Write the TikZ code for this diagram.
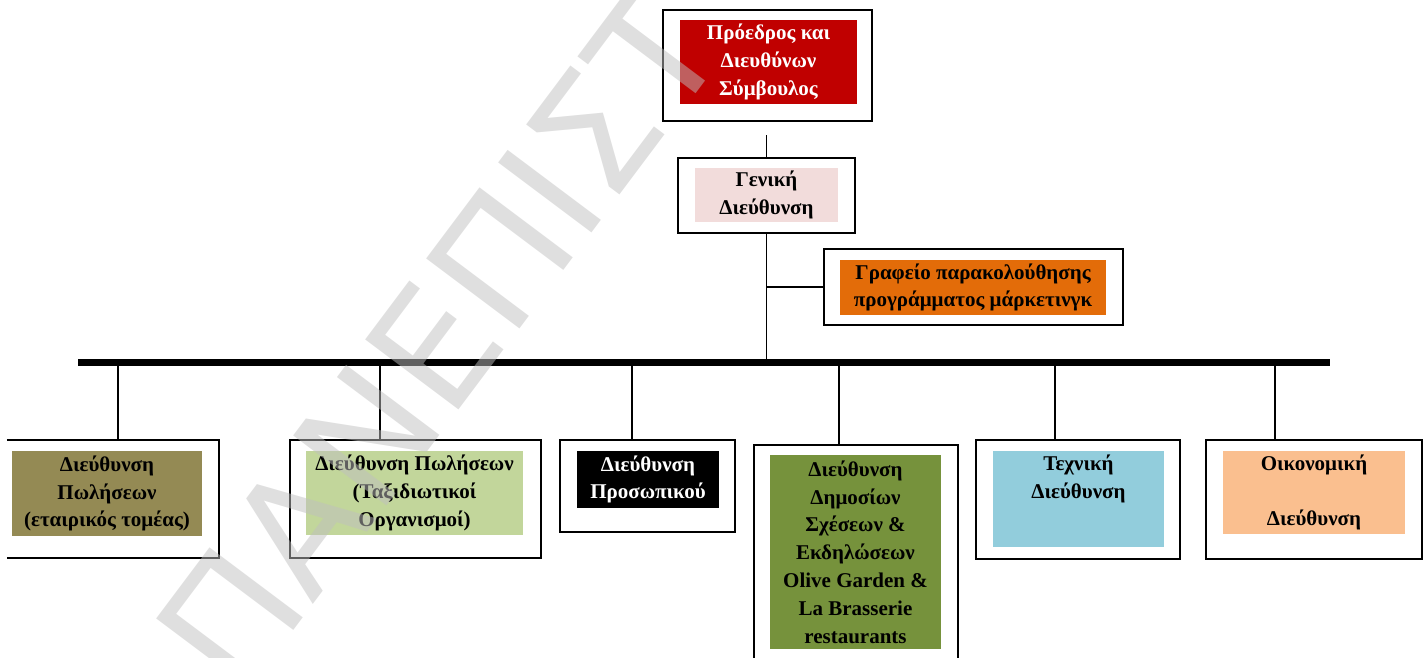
\documentclass[tikz,border=0pt]{standalone}
\usepackage{fontspec}
\setmainfont{Liberation Serif}
\newfontfamily\wmfont{DejaVu Sans}

\definecolor{ceored}{HTML}{C00000}
\definecolor{genpink}{HTML}{F2DCDB}
\definecolor{offorange}{HTML}{E36C09}
\definecolor{khaki}{HTML}{948A54}
\definecolor{palegreen}{HTML}{C2D69B}
\definecolor{olivegreen}{HTML}{76923C}
\definecolor{skyblue}{HTML}{92CDDC}
\definecolor{peach}{HTML}{FABF8F}

\begin{document}
\begin{tikzpicture}[x=1pt,y=-1pt,
  frame/.style={draw=black, line width=2.2pt, inner sep=0pt},
  frameline/.style={draw=black, line width=2.2pt},
  panel/.style={inner sep=0pt, align=center,
    font=\bfseries\fontsize{21}{27.8}\selectfont},
  link/.style={draw=black, line width=1.9pt},
  busline/.style={draw=black, line width=7pt},
  wm/.style={inner sep=0pt, text=black!25, text opacity=0.5,
    font=\wmfont\fontsize{160}{162}\selectfont}]

\useasboundingbox (0,0) rectangle (1423,657);

% ---- top of the hierarchy ----
\node[frame, minimum width=209, minimum height=111] (ceo) at (767.5,65.5) {};
\node[panel, fill=ceored, text=white, minimum width=177, minimum height=84]
  (ceoF) at (768.5,62) {Πρόεδρος και\\Διευθύνων\\Σύμβουλος};

\node[frame, minimum width=177, minimum height=75] (gen) at (766.5,195.5) {};
\node[panel, fill=genpink, minimum width=143, minimum height=54]
  (genF) at (766.5,195) {Γενική\\Διεύθυνση};

\node[frame, minimum width=299, minimum height=76] (off) at (973.5,287) {};
\node[panel, fill=offorange, minimum width=266, minimum height=55]
  (offF) at (973,287.5) {Γραφείο παρακολούθησης\\προγράμματος μάρκετινγκ};

% ---- departments ----
\node[inner sep=0pt, minimum width=212, minimum height=118] (b1) at (113,499) {};
\draw[frameline] (b1.north west) -- (b1.north east) -- (b1.south east) -- (b1.south west);
\node[panel, fill=khaki, minimum width=190, minimum height=85]
  (b1F) at (107,493.5) {Διεύθυνση\\Πωλήσεων\\(εταιρικός τομέας)};

\node[frame, minimum width=251, minimum height=118] (b2) at (415.5,499) {};
\node[panel, fill=palegreen, minimum width=217, minimum height=84]
  (b2F) at (414.5,493) {Διεύθυνση Πωλήσεων\\(Ταξιδιωτικοί\\Οργανισμοί)};

\node[frame, minimum width=175, minimum height=92] (b3) at (647.5,486) {};
\node[panel, fill=black, text=white, minimum width=142, minimum height=57]
  (b3F) at (648,479.5) {Διεύθυνση\\Προσωπικού};

\node[frame, minimum width=204, minimum height=230] (b4) at (856,560) {};
\node[panel, fill=olivegreen, minimum width=171, minimum height=194]
  (b4F) at (855.5,552) {Διεύθυνση\\Δημοσίων\\Σχέσεων \&\\Εκδηλώσεων\\Olive Garden \&\\La Brasserie\\restaurants};

\node[frame, minimum width=204, minimum height=119] (b5) at (1078,499.5) {};
\node[inner sep=0pt, fill=skyblue, minimum width=171, minimum height=96]
  (b5F) at (1078.5,499) {};
\node[panel, anchor=north] (b5T) at ([yshift=-4pt]b5F.north) {Τεχνική\\Διεύθυνση};

\node[frame, minimum width=216, minimum height=119] (b6) at (1314,499.5) {};
\node[panel, fill=peach, minimum width=182, minimum height=83]
  (b6F) at (1314,492.5) {Οικονομική\\[27.8pt]Διεύθυνση};

% ---- connectors ----
\coordinate (busL) at (78,362.5);
\coordinate (busR) at (1330,362.5);
\draw[busline] (busL) -- (busR);

\draw[link, shorten >=13pt] (gen.north) -- (gen.north |- ceo.south);
\draw[link] (gen.south) -- (gen.south |- busL);
\draw[link] (off.west) -- (off.west -| gen.south);

\draw[link] ([xshift=5pt]b1.north) coordinate (t1) -- (t1 |- busL);
\draw[link] ([xshift=-35.5pt]b2.north) coordinate (t2) -- (t2 |- busL);
\draw[link] ([xshift=-15.5pt]b3.north) coordinate (t3) -- (t3 |- busL);
\draw[link] ([xshift=-17pt]b4.north) coordinate (t4) -- (t4 |- busL);
\draw[link] ([xshift=-23pt]b5.north) coordinate (t5) -- (t5 |- busL);
\draw[link] ([xshift=-39pt]b6.north) coordinate (t6) -- (t6 |- busL);

% ---- watermark ----
\node[wm, rotate=53.13, anchor=base west] (wmark) at (240,702) {ΠΑΝΕΠΙΣΤ};
\end{tikzpicture}
\end{document}
